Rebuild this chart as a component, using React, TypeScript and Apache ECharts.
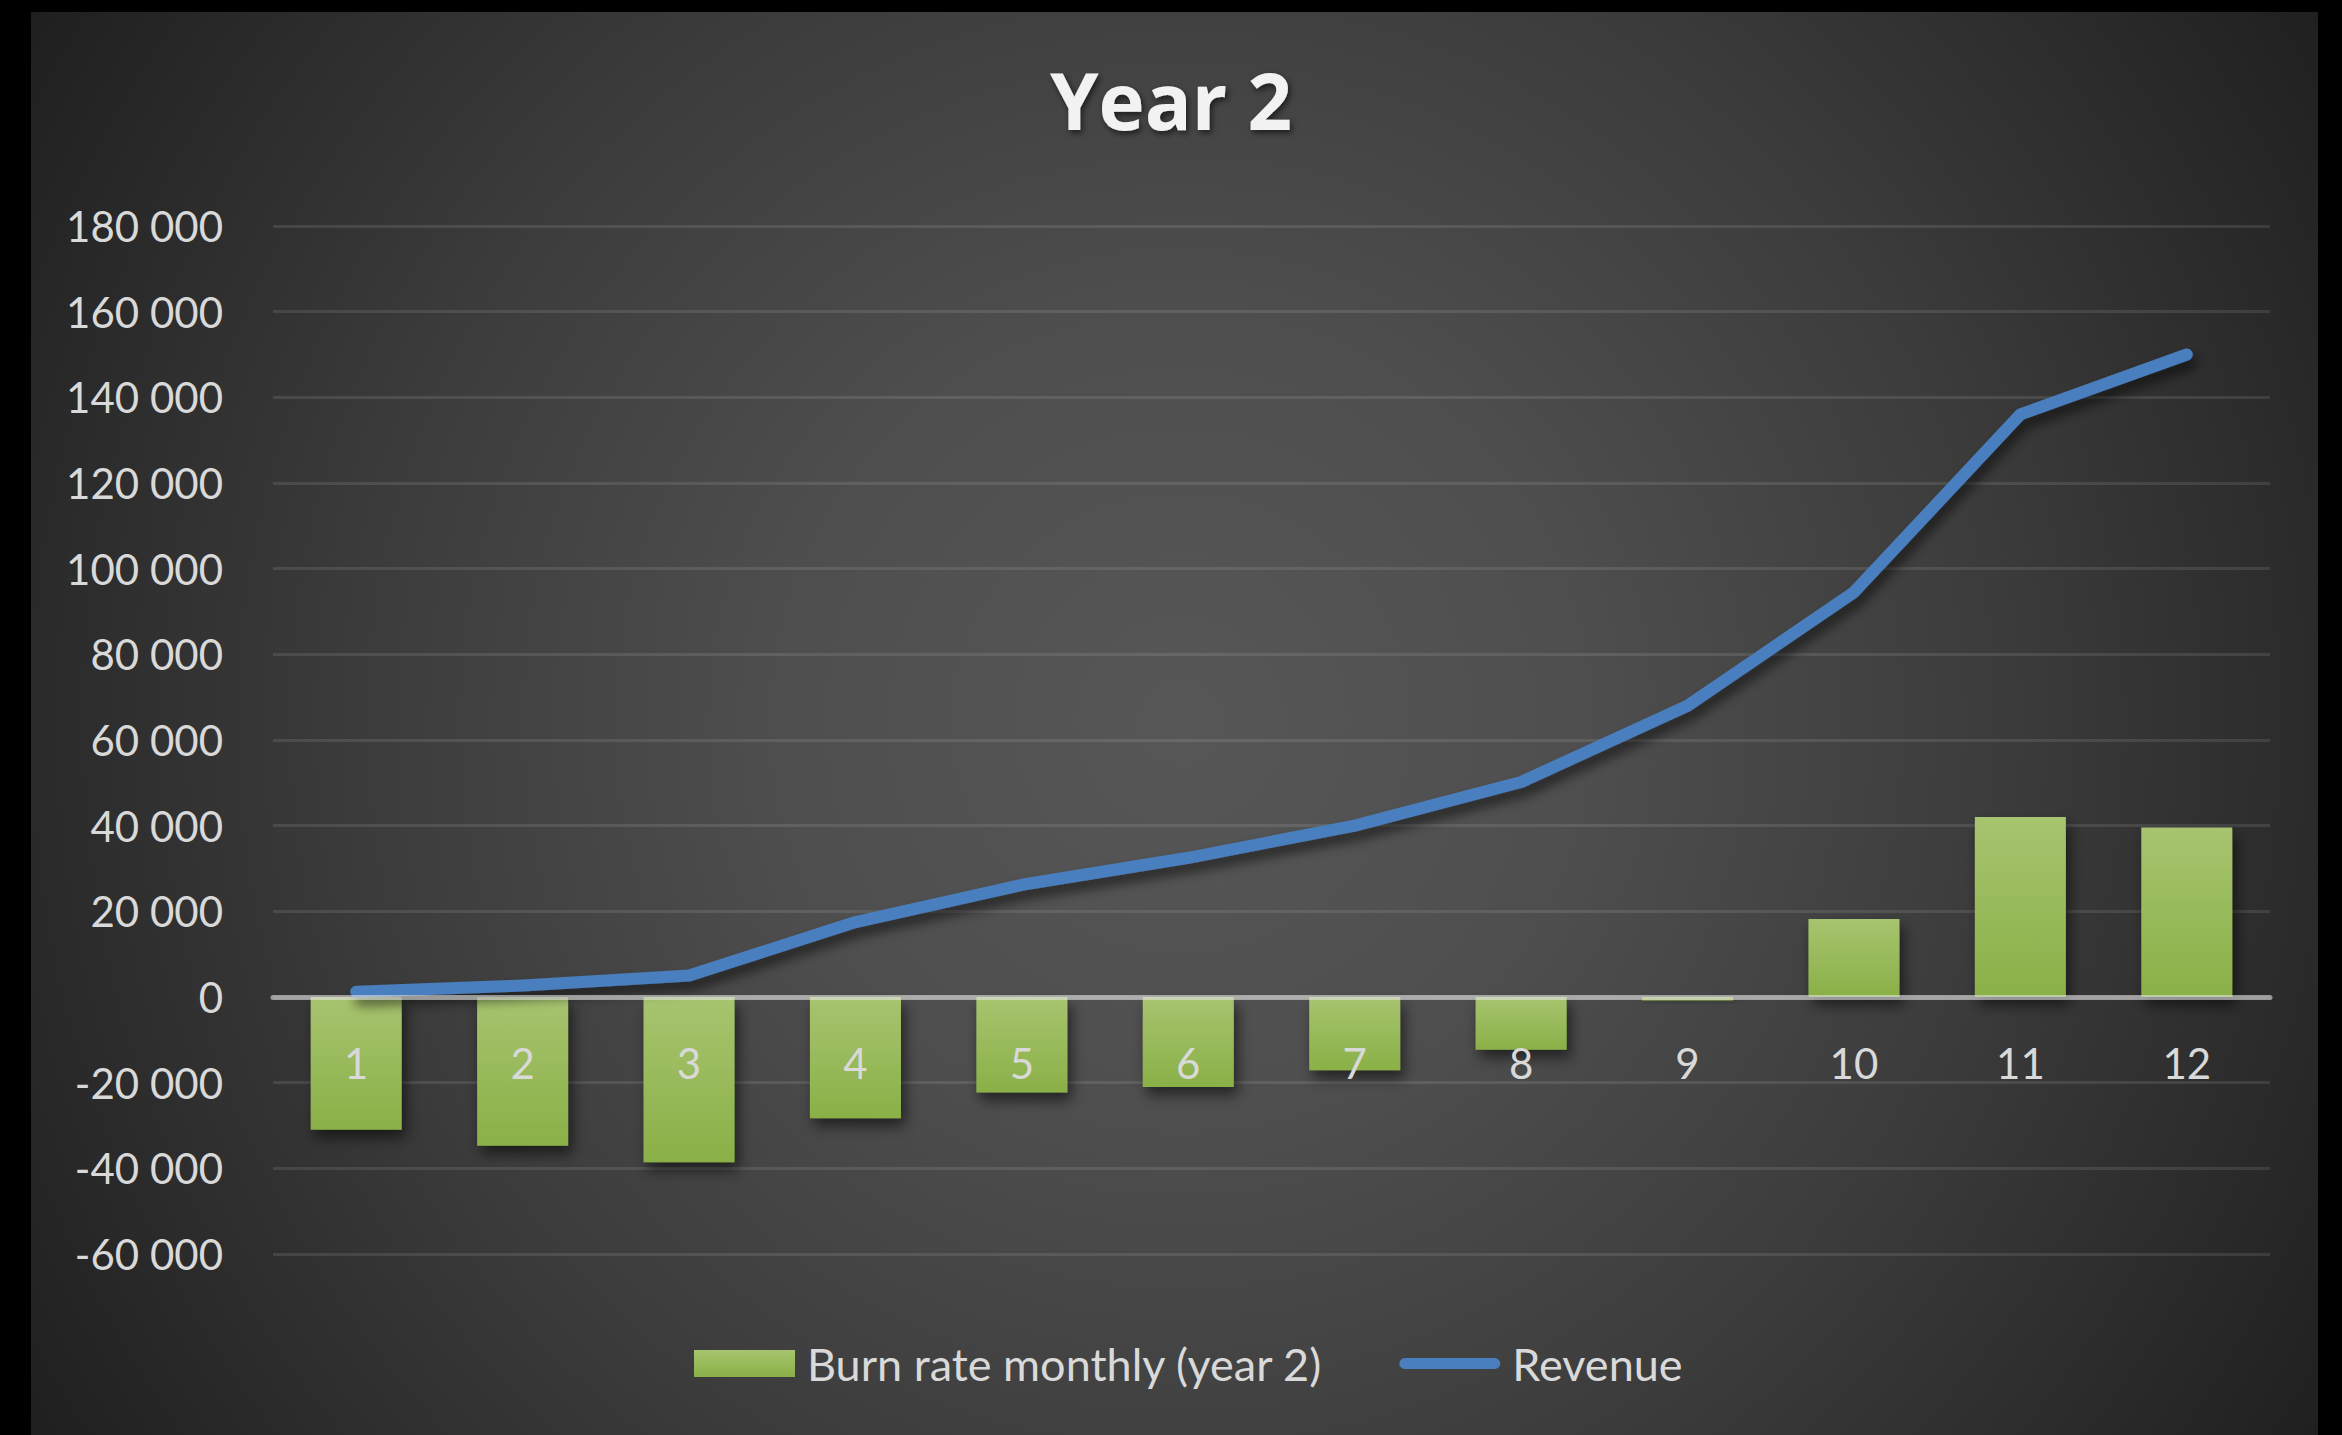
import React, { useEffect, useRef } from "react";
import * as echarts from "echarts";

const categories = ["1", "2", "3", "4", "5", "6", "7", "8", "9", "10", "11", "12"];
const burnRate = [-31000, -34700, -38600, -28300, -22300, -21000, -17100, -12300, -800, 18200, 42000, 39600];
const revenue = [1200, 2700, 5000, 17500, 26200, 32500, 40000, 50200, 68000, 94500, 136000, 150000];
const yMin = -60000;
const yMax = 180000;
const yStep = 20000;

const FONT = "Lato, 'Noto Sans', sans-serif";

function fmt(v: number): string {
  const s = Math.abs(v).toString().replace(/\B(?=(\d{3})+(?!\d))/g, " ");
  return (v < 0 ? "-" : "") + s;
}

export default function App() {
  const ref = useRef<HTMLDivElement>(null);
  useEffect(() => {
    if (!ref.current) return;
    const chart = echarts.init(ref.current, undefined, { renderer: "svg" });
    chart.setOption({
      animation: false,
      backgroundColor: "transparent",
      title: {
        text: "Year 2",
        left: "center",
        top: 56,
        textStyle: {
          fontFamily: "'Open Sans', Lato, sans-serif",
          fontWeight: "bold",
          fontSize: 78,
          color: "#f2f2f2",
          textShadowColor: "rgba(0,0,0,0.6)",
          textShadowBlur: 6,
          textShadowOffsetX: 2,
          textShadowOffsetY: 3,
        },
      },
      grid: { left: 273, right: 72, top: 226, bottom: 1435 - 1254 },
      legend: {
        left: 689,
        top: 1336,
        itemWidth: 101,
        itemHeight: 27,
        itemGap: 76,
        textStyle: {
          fontFamily: FONT,
          fontSize: 45,
          color: "#d9d9d9",
          padding: [0, 0, 0, 7],
        },
        data: [
          { name: "Burn rate monthly (year 2)", icon: "rect" },
          { name: "Revenue", icon: "path://M6,0H106A6,6 0 0 1 106,12H6A6,6 0 0 1 6,0Z" },
        ],
      },
      xAxis: {
        type: "category",
        data: categories,
        z: 10,
        axisLine: { onZero: true, lineStyle: { color: "rgba(225,225,225,0.6)", width: 5 } },
        axisTick: { show: false },
        axisLabel: { fontFamily: FONT, fontSize: 42, color: "#d9d9d9", margin: -212 },
        splitLine: { show: false },
      },
      yAxis: {
        type: "value",
        min: yMin,
        max: yMax,
        interval: yStep,
        axisLine: { show: false },
        axisTick: { show: false },
        axisLabel: { fontFamily: FONT, fontSize: 42, color: "#d9d9d9", margin: 50, formatter: fmt },
        splitLine: { lineStyle: { color: "rgba(255,255,255,0.1)", width: 3 } },
      },
      series: [
        {
          name: "Burn rate monthly (year 2)",
          type: "bar",
          data: burnRate,
          barWidth: 91,
          itemStyle: {
            color: new echarts.graphic.LinearGradient(0, 0, 0, 1, [
              { offset: 0, color: "#a7c46f" },
              { offset: 1, color: "#8ab047" },
            ]),
            shadowColor: "rgba(0,0,0,0.55)",
            shadowBlur: 14,
            shadowOffsetX: 4,
            shadowOffsetY: 8,
          },
        },
        {
          name: "Revenue",
          type: "line",
          data: revenue,
          symbol: "none",
          z: 5,
          itemStyle: { color: "#4a7ebf" },
          lineStyle: {
            color: "#4a7ebf",
            width: 12,
            cap: "round",
            join: "round",
            shadowColor: "rgba(0,0,0,0.55)",
            shadowBlur: 12,
            shadowOffsetX: 4,
            shadowOffsetY: 8,
          },
        },
      ],
    });
    return () => chart.dispose();
  }, []);

  return (
    <div style={{ position: "fixed", left: 0, top: 0, width: 2342, height: 1435, background: "#000" }}>
      <div
        style={{
          position: "absolute",
          left: 31,
          top: 12,
          width: 2287,
          height: 1423,
          background:
            "radial-gradient(circle farthest-corner at 1150px 710px, #575757 0%, #4e4e4e 30%, #3c3c3c 60%, #2a2a2a 85%, #1f1f1f 100%)",
        }}
      />
      <div ref={ref} style={{ position: "absolute", left: 0, top: 0, width: 2342, height: 1435 }} />
    </div>
  );
}
